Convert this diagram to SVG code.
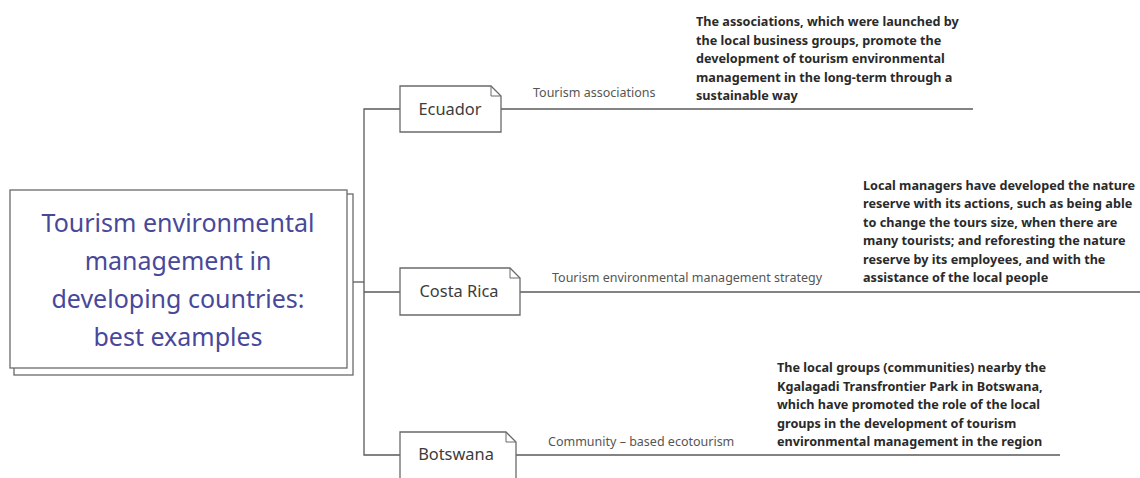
<svg xmlns="http://www.w3.org/2000/svg" width="1140" height="478" viewBox="0 0 1140 478">
<style>
.bg{fill:#ffffff}
.conn{fill:none;stroke:#5a5a5a;stroke-width:1.3}
.box{fill:#ffffff;stroke:#6a6a6a;stroke-width:1.3}
.fold{fill:none;stroke:#6a6a6a;stroke-width:1}
.title{font-family:"Noto Sans","Open Sans",sans-serif;font-size:25px;fill:#48489a;text-anchor:middle}
.node{font-family:"Noto Sans","Open Sans",sans-serif;font-size:16.4px;fill:#3c3c3c;text-anchor:middle}
.lbl{font-family:"Noto Sans","Open Sans",sans-serif;font-size:12.5px;fill:#555555}
.desc{font-family:"Noto Sans","Open Sans",sans-serif;font-size:12.65px;font-weight:700;fill:#2a2a2a}
</style>
<rect class="bg" x="0" y="0" width="1140" height="478"/>
<g id="connectors">
<path class="conn" d="M349,282 H364"/>
<path class="conn" d="M400,109 H364 V455 H400"/>
<path class="conn" d="M364,292 H400"/>
<path class="conn" d="M501,109 H973"/>
<path class="conn" d="M520,292 H1140"/>
<path class="conn" d="M516,455 H1060"/>
<text class="lbl" x="533" y="97">Tourism associations</text>
<text class="lbl" x="552" y="282">Tourism environmental management strategy</text>
<text class="lbl" x="548" y="446">Community – based ecotourism</text>
</g>
<g id="root">
<rect class="box" x="14" y="194" width="339" height="181"/>
<rect class="box" x="10" y="190" width="337" height="178"/>
<text class="title" x="178" y="232">Tourism environmental</text>
<text class="title" x="178" y="270">management in</text>
<text class="title" x="178" y="308">developing countries:</text>
<text class="title" x="178" y="346">best examples</text>
</g>
<g id="ecuador">
<path class="box" d="M400,86 H491 L501,96 V132 H400 Z"/>
<path class="fold" d="M491,86 V96 H501"/>
<text class="node" x="450" y="115">Ecuador</text>
</g>
<g id="costa-rica">
<path class="box" d="M400,268 H510 L520,278 V315 H400 Z"/>
<path class="fold" d="M510,268 V278 H520"/>
<text class="node" x="459" y="297">Costa Rica</text>
</g>
<g id="botswana">
<path class="box" d="M400,432 H506 L516,442 V482 H400 Z"/>
<path class="fold" d="M506,432 V442 H516"/>
<text class="node" x="456" y="460">Botswana</text>
</g>
<g id="desc-ecuador">
<text class="desc" x="696" y="26">The associations, which were launched by</text>
<text class="desc" x="696" y="44.5">the local business groups, promote the</text>
<text class="desc" x="696" y="63">development of tourism environmental</text>
<text class="desc" x="696" y="81.5">management in the long-term through a</text>
<text class="desc" x="696" y="100">sustainable way</text>
</g>
<g id="desc-costa-rica">
<text class="desc" x="863" y="189.5">Local managers have developed the nature</text>
<text class="desc" x="863" y="208">reserve with its actions, such as being able</text>
<text class="desc" x="863" y="226.5">to change the tours size, when there are</text>
<text class="desc" x="863" y="245">many tourists; and reforesting the nature</text>
<text class="desc" x="863" y="263.5">reserve by its employees, and with the</text>
<text class="desc" x="863" y="282">assistance of the local people</text>
</g>
<g id="desc-botswana">
<text class="desc" x="777" y="372">The local groups (communities) nearby the</text>
<text class="desc" x="777" y="390.5">Kgalagadi Transfrontier Park in Botswana,</text>
<text class="desc" x="777" y="409">which have promoted the role of the local</text>
<text class="desc" x="777" y="427.5">groups in the development of tourism</text>
<text class="desc" x="777" y="446">environmental management in the region</text>
</g>
</svg>
